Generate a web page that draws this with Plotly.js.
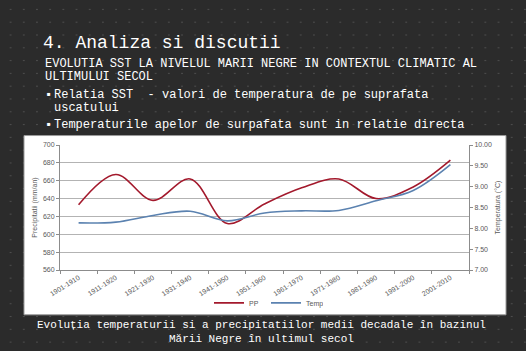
<!DOCTYPE html>
<html>
<head>
<meta charset="utf-8">
<script src="https://cdn.plot.ly/plotly-3.0.1.min.js"></script>
<style>
html,body{margin:0;padding:0;}
body{width:526px;height:351px;background-color:#2b2b2b;
background-image:radial-gradient(circle, #4d4d4d 0.8px, rgba(0,0,0,0) 1.1px);
background-size:13.2px 12.8px;background-position:4px 3px;}
#chart{width:526px;height:351px;}
</style>
</head>
<body>
<div id="chart"></div>
<script>
const decades = ["1901-1910","1911-1920","1921-1930","1931-1940","1941-1950","1951-1960","1961-1970","1971-1980","1981-1990","1991-2000","2001-2010"];
const ppValues = [633, 667, 638, 662, 612, 634, 652, 662, 640, 653, 683];
const tempValues = [8.13, 8.15, 8.31, 8.41, 8.18, 8.37, 8.42, 8.43, 8.66, 8.91, 9.53];
const seriesNames = ["PP", "Temp"];
const leftTitle = "Precipitatii (mm/an)";
const rightTitle = "Temperatura (°C)";
const slideTitle = "4. Analiza si discutii";
const subtitleLines = ["EVOLUTIA SST LA NIVELUL MARII NEGRE IN CONTEXTUL CLIMATIC AL", "ULTIMULUI SECOL"];
const bulletLines = [
  {t: "\u25AA", x: 43, y: 94},
  {t: "Relatia SST  - valori de temperatura de pe suprafata", x: 52, y: 94},
  {t: "uscatului", x: 52, y: 107},
  {t: "\u25AA", x: 43, y: 124},
  {t: "Temperaturile apelor de surpafata sunt in relatie directa", x: 52, y: 124}
];
const captionLines = ["Evoluția temperaturii si a precipitatiilor medii decadale în bazinul", "Mării Negre în ultimul secol"];

// plot area geometry in pixels
const L = 60, R = 469, T = 144.5, B = 270;
const px = x => (x - L) / (R - L);
const py = y => (B - y) / (B - T);

const mono = "Liberation Mono, Courier New, monospace";
const sans = "Liberation Sans, Arial, sans-serif";

const annotations = [];
subtitleLines.forEach((s, i) => annotations.push({
  text: s, xref: "paper", yref: "paper", x: px(43), y: py(63 + i * 13.5),
  xanchor: "left", yanchor: "middle", showarrow: false,
  font: {family: mono, size: 12, color: "#ffffff"}
}));
bulletLines.forEach(b => annotations.push({
  text: b.t, xref: "paper", yref: "paper", x: px(b.x), y: py(b.y),
  xanchor: "left", yanchor: "middle", showarrow: false,
  font: {family: mono, size: 12, color: "#ffffff"}
}));
captionLines.forEach((s, i) => annotations.push({
  text: s, xref: "paper", yref: "paper", x: px(261), y: py(325.5 + i * 14),
  xanchor: "center", yanchor: "middle", showarrow: false,
  font: {family: mono, size: 11, color: "#ffffff"}
}));

const traces = [
  {x: decades, y: ppValues, name: seriesNames[0], type: "scatter", mode: "lines",
   line: {color: "#a3192c", width: 1.6, shape: "spline", smoothing: 1}, yaxis: "y"},
  {x: decades, y: tempValues, name: seriesNames[1], type: "scatter", mode: "lines",
   line: {color: "#5b82b0", width: 1.6, shape: "spline", smoothing: 1}, yaxis: "y2"}
];

const layout = {
  width: 526, height: 351,
  margin: {l: L, r: 526 - R, t: T, b: 351 - B, pad: 0},
  paper_bgcolor: "rgba(0,0,0,0)",
  plot_bgcolor: "rgba(0,0,0,0)",
  showlegend: true,
  title: {text: slideTitle, xref: "container", yref: "container", x: 43 / 526, y: 1 - 41.5 / 351,
          xanchor: "left", yanchor: "middle",
          font: {family: mono, size: 18, color: "#ffffff"}},
  xaxis: {type: "category", range: [-0.5, decades.length - 0.5], showgrid: false, showline: true,
          linecolor: "#8c8c8c", linewidth: 1,
          ticks: "outside", ticklen: 3, tickcolor: "#8c8c8c", tickson: "boundaries",
          tickangle: -32, tickfont: {family: sans, size: 7, color: "#595959"}, fixedrange: true},
  yaxis: {range: [560, 700], dtick: 20, showgrid: true, gridcolor: "#b3b3b3", gridwidth: 1,
          showline: true, linecolor: "#8c8c8c", ticks: "outside", ticklen: 3, tickcolor: "#8c8c8c",
          tickfont: {family: sans, size: 7, color: "#595959"}, zeroline: false,
          title: {text: leftTitle, font: {family: sans, size: 7, color: "#595959"}, standoff: 4}},
  yaxis2: {range: [7, 10], dtick: 0.5, tickformat: ".2f", overlaying: "y", side: "right",
           showgrid: false, showline: true, linecolor: "#8c8c8c", ticks: "outside", ticklen: 3,
           tickcolor: "#8c8c8c", tickfont: {family: sans, size: 7, color: "#595959"}, zeroline: false,
           title: {text: rightTitle, font: {family: sans, size: 7, color: "#595959"}, standoff: 4}},
  legend: {orientation: "h", x: px(266), xanchor: "center", y: py(303), yanchor: "middle",
           font: {family: sans, size: 7, color: "#595959"}, bgcolor: "rgba(0,0,0,0)",
           itemwidth: 30, entrywidth: 12},
  shapes: [{type: "rect", xref: "paper", yref: "paper", x0: px(24), x1: px(506), y0: py(315), y1: py(135),
            fillcolor: "#ffffff", line: {color: "#9a9a9a", width: 1}, layer: "below"}],
  annotations: annotations
};

Plotly.newPlot("chart", traces, layout, {displayModeBar: false, staticPlot: true});
</script>
</body>
</html>
